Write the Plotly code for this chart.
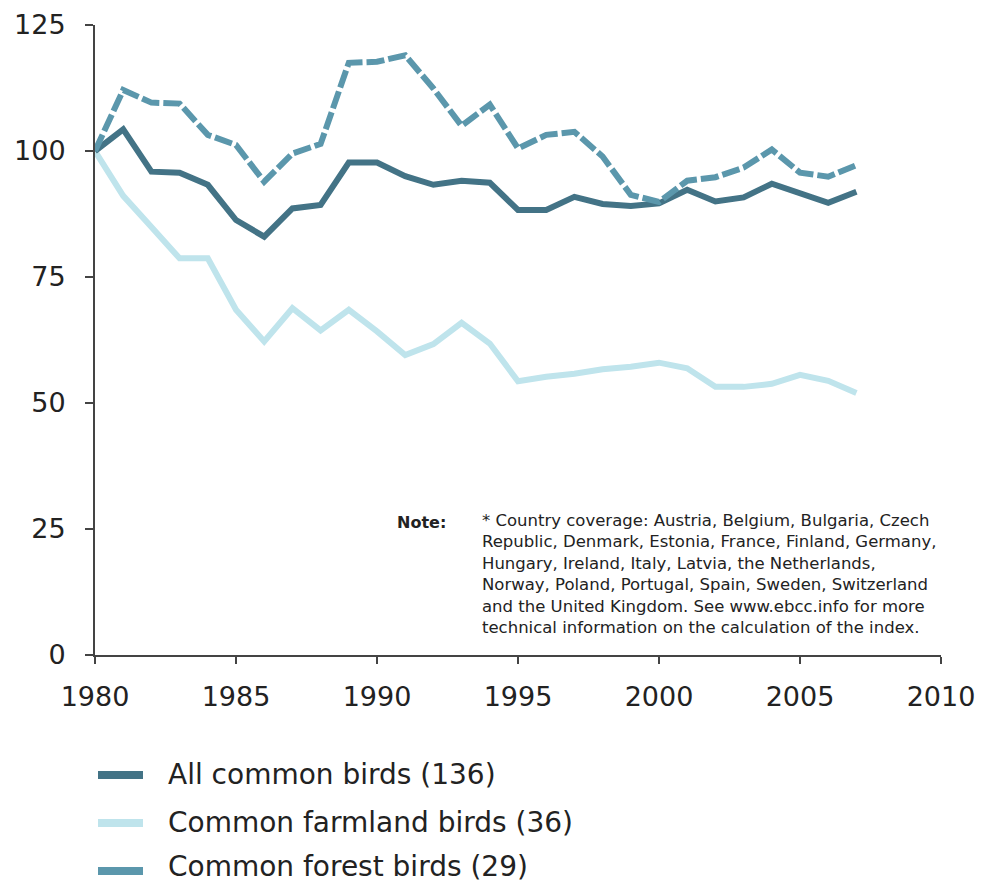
import plotly.graph_objects as go

years = list(range(1980, 2008))

all_common = [100, 104.3, 95.9, 95.7, 93.3, 86.3, 83.0, 88.6, 89.3, 97.7,
              97.7, 95.0, 93.3, 94.1, 93.7, 88.3, 88.3, 90.9, 89.5, 89.1,
              89.6, 92.3, 90.0, 90.8, 93.5, 91.6, 89.7, 91.9]

farmland = [100, 91.1, 84.9, 78.7, 78.7, 68.5, 62.2, 68.8, 64.4, 68.5,
            64.2, 59.5, 61.7, 65.9, 61.8, 54.3, 55.2, 55.8, 56.7, 57.2,
            58.0, 56.9, 53.2, 53.2, 53.8, 55.6, 54.4, 52.0]

forest = [100, 112.1, 109.6, 109.4, 103.2, 101.2, 93.9, 99.5, 101.4, 117.5,
          117.7, 119.0, 112.4, 105.0, 109.2, 100.5, 103.2, 103.8, 98.9, 91.3,
          89.9, 94.1, 94.8, 96.7, 100.3, 95.7, 94.9, 97.2]

series_names = ["All common birds (136)", "Common farmland birds (36)", "Common forest birds (29)"]

x_ticks = [1980, 1985, 1990, 1995, 2000, 2005, 2010]
y_ticks = [0, 25, 50, 75, 100, 125]

note_label = "Note:"
note_lines = [
    "* Country coverage: Austria, Belgium, Bulgaria, Czech",
    "Republic, Denmark, Estonia, France, Finland, Germany,",
    "Hungary, Ireland, Italy, Latvia, the Netherlands,",
    "Norway, Poland, Portugal, Spain, Sweden, Switzerland",
    "and the United Kingdom. See www.ebcc.info for more",
    "technical information on the calculation of the index.",
]

C_ALL = "#437386"
C_FARM = "#bfe4ec"
C_FOREST = "#5b97ac"
FONT = "DejaVu Sans"
TXT = "#222222"

W, H = 981, 886
ML, MR, MT, MB = 95, 40, 25, 231
PW, PH = W - ML - MR, H - MT - MB


def px(x):
    return (x - ML) / PW


def py(y):
    return (H - MB - y) / PH


fig = go.Figure()
fig.add_trace(go.Scatter(x=years, y=farmland, mode="lines", name=series_names[1],
                         line=dict(color=C_FARM, width=6), showlegend=False))
fig.add_trace(go.Scatter(x=years, y=all_common, mode="lines", name=series_names[0],
                         line=dict(color=C_ALL, width=6), showlegend=False))
fig.add_trace(go.Scatter(x=years, y=forest, mode="lines", name=series_names[2],
                         line=dict(color=C_FOREST, width=6, dash="18px,4px"), showlegend=False))

# legend drawn manually: (name, colour, symbol y, text y)
legend_rows = [(series_names[0], C_ALL, 775, 774),
               (series_names[1], C_FARM, 823, 822),
               (series_names[2], C_FOREST, 871, 866)]
for name, col, ys, yt in legend_rows:
    fig.add_shape(type="line", xref="paper", yref="paper",
                  x0=px(98), x1=px(143), y0=py(ys), y1=py(ys),
                  line=dict(color=col, width=8))
    fig.add_annotation(xref="paper", yref="paper", x=px(166), y=py(yt),
                       xanchor="left", yanchor="middle", text=name, showarrow=False,
                       font=dict(family=FONT, size=28, color=TXT))

fig.add_annotation(xref="paper", yref="paper", x=px(395), y=py(511),
                   xanchor="left", yanchor="top", text="<b>" + note_label + "</b>",
                   showarrow=False, font=dict(family=FONT, size=16, color=TXT))
fig.add_annotation(xref="paper", yref="paper", x=px(480), y=py(509),
                   xanchor="left", yanchor="top", align="left",
                   text="<br>".join(note_lines), showarrow=False,
                   font=dict(family=FONT, size=16.5, color=TXT))

fig.update_layout(
    width=W, height=H,
    margin=dict(l=ML, r=MR, t=MT, b=MB, autoexpand=False),
    plot_bgcolor="white", paper_bgcolor="white",
    showlegend=False,
    font=dict(family=FONT, size=27, color=TXT),
)
fig.update_xaxes(range=[1980, 2010], tickvals=x_ticks, ticktext=[str(v) for v in x_ticks],
                 showgrid=False, zeroline=False, showline=True, linecolor="#444444", linewidth=2,
                 ticks="outside", ticklen=7, tickwidth=2, tickcolor="#444444",
                 ticklabelstandoff=10, tickfont=dict(family=FONT, size=27, color=TXT))
fig.update_yaxes(range=[0, 125], tickvals=y_ticks, ticktext=[str(v) for v in y_ticks],
                 showgrid=False, zeroline=False, showline=True, linecolor="#444444", linewidth=2,
                 ticks="outside", ticklen=8, tickwidth=2, tickcolor="#444444",
                 ticklabelstandoff=14, tickfont=dict(family=FONT, size=27, color=TXT))

fig.write_html("out.html", config={"responsive": False, "displayModeBar": False},
               post_script="document.body.style.margin='0';document.body.style.padding='0';document.body.style.overflow='hidden';")
